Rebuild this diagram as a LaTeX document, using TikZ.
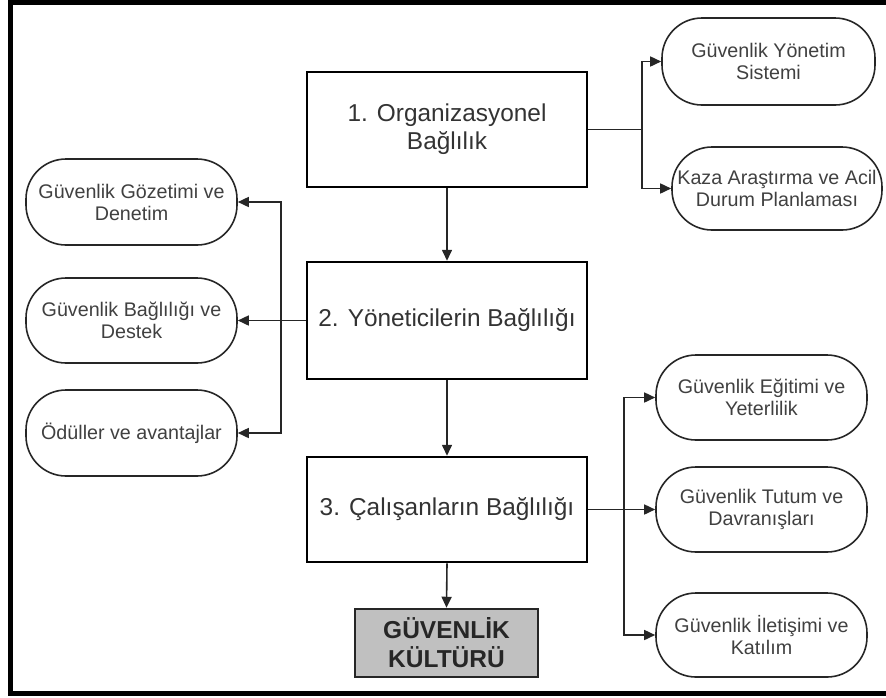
\documentclass[tikz,border=0pt]{standalone}
\usepackage{fontspec}
\setmainfont{Liberation Sans}
\usetikzlibrary{arrows.meta}
\definecolor{cultfill}{HTML}{C0C0C0}
\begin{document}
\begin{tikzpicture}[x=1pt,y=-1pt,
  mainbox/.style={draw=black, line width=2.5pt, minimum width=280pt,
    text=black!80, font=\fontsize{24.4}{27.7}\selectfont, align=center, inner sep=0pt},
  pill/.style={draw=black!85, line width=1.6pt, rounded corners=40pt,
    minimum width=211pt, minimum height=85pt, text=black!75,
    font=\fontsize{19.7}{22}\selectfont, align=center, inner sep=0pt},
  link/.style={draw=black!85, line width=1.6pt},
  arr/.style={link, -{Triangle[length=11pt,width=10pt]}},
]
\useasboundingbox (0,0) rectangle (886,697);

% outer frame
\draw[line width=5pt] (886,2.5) -- (10,2.5) -- (10,693.5) -- (886,693.5);

% main column
\node[mainbox, minimum height=115pt] (org) at (447,129.5) {1. Organizasyonel\\Bağlılık};
\node[mainbox, minimum height=117pt] (yon) at (447,320.5) {2. Yöneticilerin Bağlılığı};
\node[mainbox, minimum height=105pt] (cal) at (447,509.5) {3. Çalışanların Bağlılığı};
\node[draw=black!85, line width=2.5pt, fill=cultfill, minimum width=183pt, minimum height=68pt,
  inner sep=0pt, align=center, text=black!85,
  font=\fontsize{24.5}{29}\selectfont\bfseries] (kultur) at (446.5,643) {GÜVENLİK\\KÜLTÜRÜ};

% left group
\node[pill, minimum height=86pt] (goz) at (131.5,202) {Güvenlik Gözetimi ve\\Denetim};
\node[pill] (bag) at (131.5,320.5) {Güvenlik Bağlılığı ve\\Destek};
\node[pill, minimum height=86pt] (odul) at (131.5,433) {Ödüller ve avantajlar};

% top right group
\node[pill, minimum width=213pt, minimum height=87pt] (sis) at (768.5,61.5) {Güvenlik Yönetim\\Sistemi};
\node[pill, minimum width=210pt, minimum height=83pt] (kaza) at (777,188.5) {Kaza Araştırma ve Acil\\Durum Planlaması};

% bottom right group
\node[pill] (egit) at (761.5,397.5) {Güvenlik Eğitimi ve\\Yeterlilik};
\node[pill] (tutum) at (761.5,509.5) {Güvenlik Tutum ve\\Davranışları};
\node[pill, minimum height=84pt] (ilet) at (761.5,635) {Güvenlik İletişimi ve\\Katılım};

% branch points
\coordinate (jr) at (642,129.5);
\coordinate (jl) at (281,320.5);
\coordinate (jb) at (624,509.5);

% vertical flow
\draw[arr] (org.south) -- (yon.north);
\draw[arr] (yon.south) -- (cal.north);
\draw[arr] (cal.south) -- (kultur.north);

% branches
\draw[link] (org.east) -- (jr);
\draw[arr] (jr) |- (sis.west);
\draw[arr] (jr) |- (kaza.west);

\draw[arr] (yon.west) -- (bag.east);
\draw[arr] (jl) |- (goz.east);
\draw[arr] (jl) |- (odul.east);

\draw[arr] (cal.east) -- (tutum.west);
\draw[arr] (jb) |- (egit.west);
\draw[arr] (jb) |- (ilet.west);
\end{tikzpicture}
\end{document}
